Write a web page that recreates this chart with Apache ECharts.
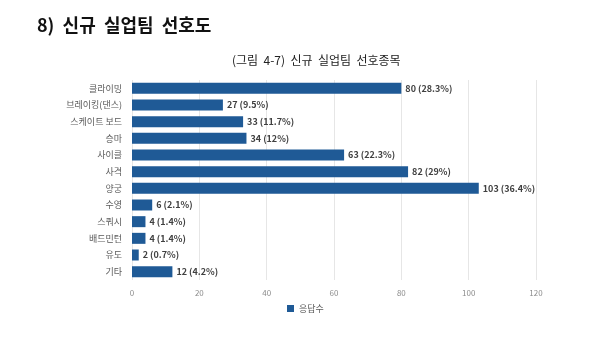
<!DOCTYPE html>
<html><head><meta charset="utf-8">
<script src="https://cdn.jsdelivr.net/npm/echarts@6/dist/echarts.min.js"></script>
<style>html,body{margin:0;padding:0;background:#fff}#c{width:600px;height:341px}</style>
</head><body><div id="c"></div>
<script>
const categories = ['클라이밍','브레이킹(댄스)','스케이트 보드','승마','사이클','사격','양궁','수영','스쿼시','배드민턴','유도','기타'];
const counts = [80,27,33,34,63,82,103,6,4,4,2,12];
const percents = ['28.3%','9.5%','11.7%','12%','22.3%','29%','36.4%','2.1%','1.4%','1.4%','0.7%','4.2%'];
const xTicks = [0,20,40,60,80,100,120];
const seriesName = '응답수';

const chart = echarts.init(document.getElementById('c'), null, {renderer:'canvas'});
const font = '"Noto Sans CJK KR","Noto Sans",sans-serif';
chart.setOption({
  animation:false,
  title:[
    {text:'8)  신규  실업팀  선호도', left:32, top:11, textStyle:{fontFamily:font, fontSize:18, fontWeight:'bold', color:'#111'}},
    {text:'(그림  4-7)  신규  실업팀  선호종목', left:227, top:49, textStyle:{fontFamily:font, fontSize:12, fontWeight:'normal', color:'#222'}}
  ],
  grid:{left:132, right:64, top:80, bottom:61, containLabel:false},
  legend:{bottom:23, left:282, itemWidth:7, itemHeight:7, icon:'rect', itemGap:4,
    textStyle:{fontFamily:font, fontSize:9, color:'#595959'}, data:[seriesName]},
  xAxis:{type:'value', min:xTicks[0], max:xTicks[xTicks.length-1], interval:20,
    axisLine:{show:false}, axisTick:{show:false},
    axisLabel:{fontFamily:font, fontSize:8, color:'#8c8c8c', margin:9},
    splitLine:{lineStyle:{color:'#e6e6e6', width:1}}},
  yAxis:{type:'category', inverse:true, data:categories,
    axisLine:{show:false}, axisTick:{show:false},
    axisLabel:{fontFamily:font, fontSize:9, color:'#595959', margin:10}},
  series:[{name:seriesName, type:'bar', data:counts, barWidth:11,
    itemStyle:{color:'#1f5a96'},
    label:{show:true, position:'right', distance:4, fontFamily:font, fontSize:9, fontWeight:'bold', color:'#404040',
      formatter:p=>p.value+' ('+percents[p.dataIndex]+')'}}]
});
</script></body></html>
